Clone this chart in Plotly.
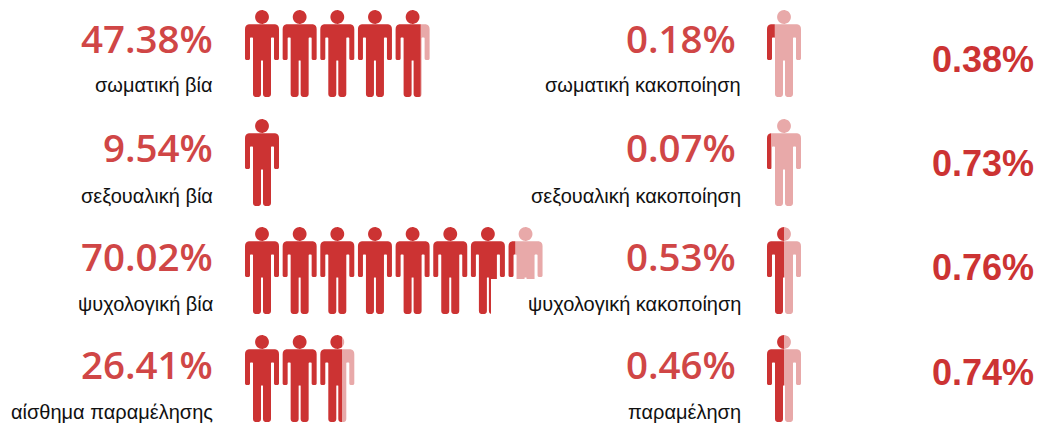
import numpy as np
import plotly.graph_objects as go

# ---- data ----
left_labels = ["σωματική βία", "σεξουαλική βία", "ψυχολογική βία", "αίσθημα παραμέλησης"]
left_values = ["47.38%", "9.54%", "70.02%", "26.41%"]
left_people = [4.74, 1.0, 7.2, 2.64]
right_labels = ["σωματική κακοποίηση", "σεξουαλική κακοποίηση", "ψυχολογική κακοποίηση", "παραμέληση"]
right_values = ["0.18%", "0.07%", "0.53%", "0.46%"]
right_people = [0.23, 0.12, 0.5, 0.5]
ratio_values = ["0.38%", "0.73%", "0.76%", "0.74%"]

DARK = "#cc3333"
LIGHT = "#e8a9a9"
TXT = "#d04646"

row_top = [10, 119, 227, 335]
pct_y = [38, 147, 256, 364]
lab_y = [85, 196, 304, 412]
ratio_y = [59, 163, 267, 372]
PITCH = 37.65
LEFT_X, RIGHT_X = 245, 767


def rounded(pts):
    out = []
    n = len(pts)
    for i in range(n):
        x, y, r = pts[i]
        px, py, _ = pts[i - 1]
        nx, ny, _ = pts[(i + 1) % n]
        a = np.array([x, y], float)
        d1 = np.array([px, py], float) - a
        d2 = np.array([nx, ny], float) - a
        if r == 0:
            out.append(a)
            continue
        p0 = a + d1 / np.linalg.norm(d1) * r
        p2 = a + d2 / np.linalg.norm(d2) * r
        for t in np.linspace(0, 1, 6):
            out.append((1 - t) ** 2 * p0 + 2 * t * (1 - t) * a + t ** 2 * p2)
    out.append(out[0])
    dense = []
    for p, q in zip(out[:-1], out[1:]):
        for t in np.linspace(0, 1, 25, endpoint=False):
            dense.append(p + (q - p) * t)
    dense.append(out[0])
    return np.array(dense)


BODY = rounded([
    (0, 14.2, 5), (34, 14.2, 5), (34, 50, 1.8), (29, 50, 1.8), (29, 27.5, 1), (26, 27.5, 1),
    (26, 87, 3.2), (18, 87, 3.2), (18, 50.5, .5), (16, 50.5, .5), (16, 87, 3.2), (8, 87, 3.2),
    (8, 27.5, 1), (5, 27.5, 1), (5, 50, 1.8), (0, 50, 1.8),
])
th = np.linspace(0, 2 * np.pi, 60)
HEAD = np.c_[17 + 6.9 * np.cos(th), 7 + 6.9 * np.sin(th)]


def person(x0, y0, clip_lo=None, clip_hi=None):
    xs, ys = [], []
    for part in (BODY, HEAD):
        x = part[:, 0] + x0
        if clip_lo is not None:
            x = np.maximum(x, clip_lo)
        if clip_hi is not None:
            x = np.minimum(x, clip_hi)
        xs += list(x) + [None]
        ys += list(part[:, 1] + y0) + [None]
    return xs, ys


fig = go.Figure()


def add_row(name, x0, top, people):
    dx, dy, lx, ly = [], [], [], []
    whole = int(np.floor(people))
    for k in range(whole):
        a, b = person(x0 + k * PITCH, top)
        dx += a; dy += b
    frac = people - whole
    if frac > 1e-6:
        left = x0 + whole * PITCH
        cut = left + frac * 34
        a, b = person(left, top, clip_lo=cut)
        lx += a; ly += b
        a, b = person(left, top, clip_hi=cut)
        dx += a; dy += b
    for xs, ys, c in ((lx, ly, LIGHT), (dx, dy, DARK)):
        if xs:
            fig.add_trace(go.Scatter(x=xs, y=ys, mode="lines", fill="toself", fillcolor=c,
                                     line=dict(width=0, color=c, simplify=False), name=name, hoverinfo="name"))


for i in range(4):
    add_row(left_labels[i], LEFT_X, row_top[i], left_people[i])
    add_row(right_labels[i], RIGHT_X, row_top[i], right_people[i])

# white patch that hides the lower part of the third row's last figures
fig.add_shape(type="rect", x0=491, x1=548, y0=279, y1=320, fillcolor="white", line_width=0, layer="above")


def txt(x, y, s, size, color, family, anchor="right", weight=None):
    font = dict(size=size, color=color, family=family)
    if weight:
        font["weight"] = weight
    fig.add_annotation(x=x, y=y, text=s, showarrow=False, xanchor=anchor, yanchor="middle",
                       font=font, xref="x", yref="y")


for i in range(4):
    txt(215, pct_y[i], left_values[i], 38.5, TXT, "Open Sans", weight=600)
    txt(215, lab_y[i], left_labels[i], 20, "#111111", "Liberation Sans")
    txt(738, pct_y[i], right_values[i], 38.5, TXT, "Open Sans", weight=600)
    txt(743, lab_y[i], right_labels[i], 20, "#111111", "Liberation Sans")
    txt(1036, ratio_y[i], "<b>%s</b>" % ratio_values[i], 36, DARK, "Liberation Sans")

fig.update_layout(
    width=1037, height=425, margin=dict(l=0, r=0, t=0, b=0), showlegend=False,
    paper_bgcolor="white", plot_bgcolor="white",
    xaxis=dict(range=[0, 1037], visible=False, fixedrange=True),
    yaxis=dict(range=[425, 0], visible=False, fixedrange=True),
)
fig.write_html("out.html", config=dict(displayModeBar=False),
               post_script="document.body.style.margin='0';document.body.style.overflow='hidden';")
